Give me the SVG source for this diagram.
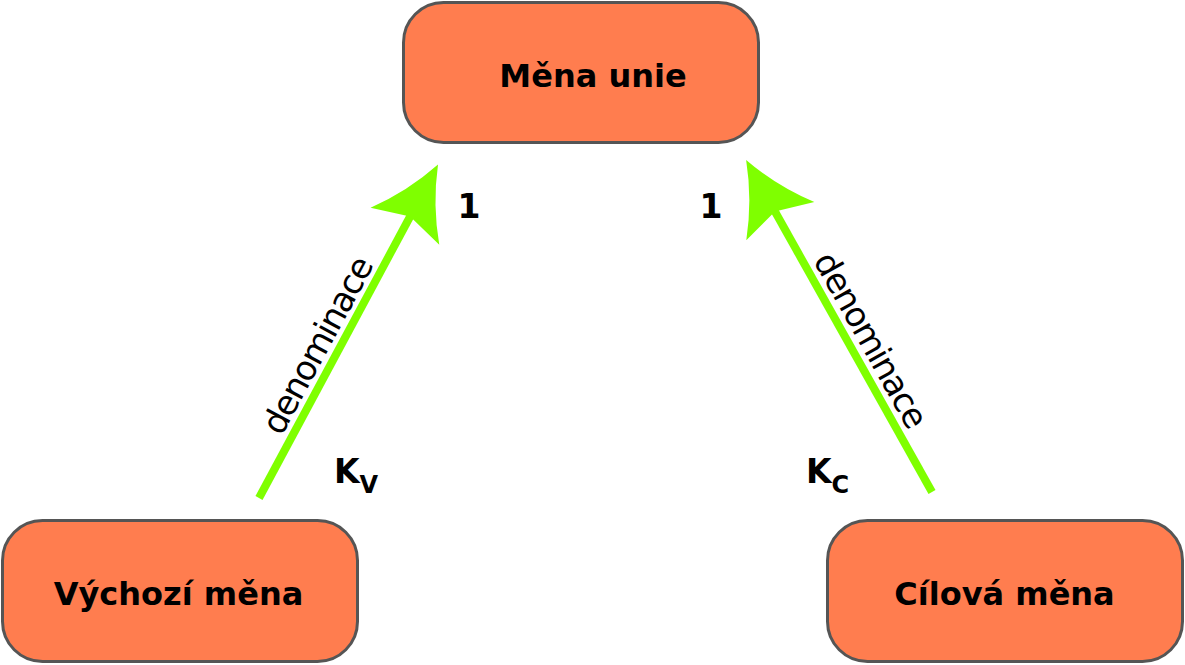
<svg xmlns="http://www.w3.org/2000/svg" width="1185" height="665" viewBox="0 0 1185 665">
<style>
.node{fill:#FF7D4F;stroke:#555555;stroke-width:3}
.lbl{font-family:"DejaVu Sans","Liberation Sans",sans-serif;font-weight:bold;font-size:32px;fill:#000;text-anchor:middle}
.num{font-family:"DejaVu Sans","Liberation Sans",sans-serif;font-weight:bold;font-size:33px;fill:#000}
.sub{font-size:24px}
.edge{stroke:#7FFF00;stroke-width:8;fill:none;marker-end:url(#ah)}
.elbl{font-family:"DejaVu Sans","Liberation Sans",sans-serif;font-size:34px;letter-spacing:-1.5px;fill:#000;text-anchor:middle}
</style>
<defs>
<marker id="ah" markerUnits="userSpaceOnUse" viewBox="-75 -45 80 90" refX="-55" refY="0" markerWidth="80" markerHeight="90" orient="auto">
<path d="M0,0 Q-38,-14 -70,-39 L-59,0 L-70,39 Q-38,14 0,0 Z" fill="#7FFF00"/>
</marker>
</defs>
<g id="connectors">
<line class="edge" x1="259" y1="498" x2="412" y2="213"/>
<line class="edge" x1="932" y1="492" x2="773" y2="208"/>
<text class="elbl" transform="translate(318,346) rotate(-61.7)" y="11">denominace</text>
<text class="elbl" transform="translate(870,340) rotate(60.7)" y="11">denominace</text>
<text class="num" x="469" y="218" text-anchor="middle">1</text>
<text class="num" x="711" y="218" text-anchor="middle">1</text>
<text class="num" x="334" y="483">K<tspan class="sub" dy="10">V</tspan></text>
<text class="num" x="806" y="483">K<tspan class="sub" dy="10">C</tspan></text>
</g>
<g id="mena-unie">
<rect class="node" x="403.5" y="2.5" width="355" height="140" rx="40" ry="40"/>
<text class="lbl" x="593" y="87">Měna unie</text>
</g>
<g id="vychozi-mena">
<rect class="node" x="2.5" y="520.5" width="355" height="141" rx="40" ry="40"/>
<text class="lbl" x="178.5" y="605">Výchozí měna</text>
</g>
<g id="cilova-mena">
<rect class="node" x="827.5" y="520.5" width="355" height="141" rx="40" ry="40"/>
<text class="lbl" x="1004.5" y="605">Cílová měna</text>
</g>
</svg>
